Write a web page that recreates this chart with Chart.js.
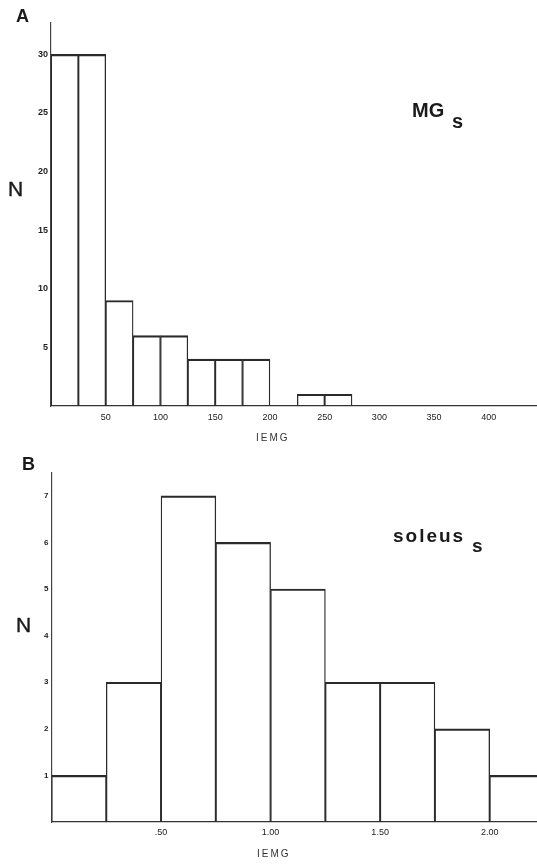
<!DOCTYPE html>
<html>
<head>
<meta charset="utf-8">
<script src="https://cdn.jsdelivr.net/npm/chart.js@4/dist/chart.umd.min.js"></script>
<style>
  html, body { margin: 0; padding: 0; background: #fff; }
  body { width: 537px; height: 864px; position: relative; overflow: hidden; font-family: "Liberation Sans", Arial, sans-serif; color: #1a1a1a; }
  .cv { position: absolute; left: 0; }
  .lbl { position: absolute; line-height: 1; white-space: nowrap; }
</style>
</head>
<body>
<canvas id="chartA" class="cv" width="537" height="440" style="top:0px"></canvas>
<canvas id="chartB" class="cv" width="537" height="424" style="top:440px"></canvas>

<div class="lbl" style="left:16px; top:6.7px; font-size:18px; font-weight:bold;">A</div>
<div class="lbl" style="left:8px; top:178px; font-size:21px; -webkit-text-stroke:0.4px #1a1a1a;">N</div>
<div class="lbl" style="left:412px; top:100px; font-size:20px; font-weight:bold;">MG</div>
<div class="lbl" style="left:452px; top:111px; font-size:20px; font-weight:bold;">s</div>
<div class="lbl" style="left:256px; top:432.7px; font-size:10px; letter-spacing:2px; color:#333;">IEMG</div>

<div class="lbl" style="left:22px; top:454.7px; font-size:18px; font-weight:bold;">B</div>
<div class="lbl" style="left:16px; top:614px; font-size:21px; -webkit-text-stroke:0.4px #1a1a1a;">N</div>
<div class="lbl" style="left:393px; top:526px; font-size:19px; font-weight:bold; letter-spacing:2px;">soleus</div>
<div class="lbl" style="left:472px; top:536px; font-size:19px; font-weight:bold;">s</div>
<div class="lbl" style="left:257px; top:848.7px; font-size:10px; letter-spacing:2px; color:#333;">IEMG</div>

<script>
// ---------- Panel A (MGs) ----------
const binStartsA = [0, 25, 50, 75, 100, 125, 150, 175, 200, 225, 250];
const countsA    = [30, 30, 9, 6, 6, 4, 4, 4, 0, 1, 1];
const binWidthA  = 25;
const xTicksA      = [50, 100, 150, 200, 250, 300, 350, 400];
const xTickLabelsA = ["50", "100", "150", "200", "250", "300", "350", "400"];
const yTicksA      = [5, 10, 15, 20, 25, 30];

// ---------- Panel B (soleus) ----------
const binStartsB = [0, 0.25, 0.5, 0.75, 1.0, 1.25, 1.5, 1.75, 2.0];
const countsB    = [1, 3, 7, 6, 5, 3, 3, 2, 1];
const binWidthB  = 0.25;
const xTicksB      = [0.5, 1.0, 1.5, 2.0];
const xTickLabelsB = [".50", "1.00", "1.50", "2.00"];
const yTicksB      = [1, 2, 3, 4, 5, 6, 7];

const INK = '#2a2a2a';

function makeHist(id, starts, counts, width, xTicks, xLabels, yTicks, cfg) {
  const data = starts.map((s, i) => ({ x: s + width / 2, y: counts[i] }));
  return new Chart(document.getElementById(id), {
    type: 'bar',
    data: {
      datasets: [{
        data: data,
        backgroundColor: 'rgba(0,0,0,0)',
        borderColor: INK,
        borderWidth: { top: 1.5, left: 0.65, right: 0.65, bottom: 0 },
        borderSkipped: 'bottom',
        barPercentage: 1,
        categoryPercentage: 1
      }]
    },
    options: {
      responsive: false,
      animation: false,
      devicePixelRatio: 1,
      layout: { padding: { top: cfg.padTop, right: 0, bottom: 0, left: 0 } },
      plugins: { legend: { display: false }, tooltip: { enabled: false } },
      scales: {
        x: {
          type: 'linear',
          offset: false,
          min: 0,
          max: cfg.xMax,
          grid: { display: false, drawTicks: false, offset: false },
          border: { display: true, color: '#333', width: 1.2, dash: [4, 1.5] },
          afterBuildTicks: s => { s.ticks = xTicks.map(v => ({ value: v })); },
          afterFit: s => { s.height = cfg.xHeight; },
          ticks: {
            padding: cfg.xPad,
            color: '#222',
            maxRotation: 0,
            autoSkip: false,
            font: { family: 'Liberation Sans', size: 9 },
            callback: (v) => { const k = xTicks.indexOf(v); return k >= 0 ? xLabels[k] : ''; }
          }
        },
        y: {
          type: 'linear',
          min: 0,
          max: cfg.yMax,
          grid: { display: false, drawTicks: false },
          border: { display: true, color: '#444', width: 1.2, dash: [3, 1.5] },
          afterBuildTicks: s => { s.ticks = yTicks.map(v => ({ value: v })); },
          afterFit: s => { s.width = cfg.yWidth; },
          ticks: {
            padding: 3,
            color: '#222',
            autoSkip: false,
            font: { family: 'Liberation Sans', size: cfg.yFont, weight: 'bold' }
          }
        }
      }
    }
  });
}

makeHist('chartA', binStartsA, countsA, binWidthA, xTicksA, xTickLabelsA, yTicksA,
  { padTop: 23, xMax: 444, yMax: 32.67, xHeight: 34, xPad: 6, yWidth: 51, yFont: 9 });
makeHist('chartB', binStartsB, countsB, binWidthB, xTicksB, xTickLabelsB, yTicksB,
  { padTop: 33, xMax: 2.216, yMax: 7.49, xHeight: 42, xPad: 5, yWidth: 51.5, yFont: 8 });
</script>
</body>
</html>
